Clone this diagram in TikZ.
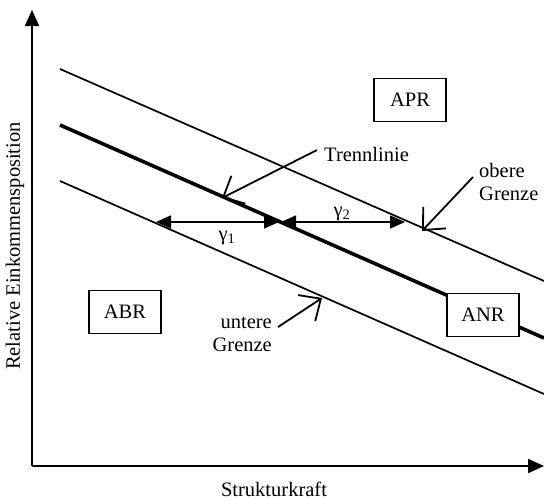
\documentclass[tikz,border=0pt]{standalone}
\usepackage{fontspec}
\setmainfont{Liberation Serif}
\usetikzlibrary{arrows.meta}
\begin{document}
\begin{tikzpicture}[x=1pt,y=-1pt,
  every node/.style={font=\fontsize{20.5}{23}\selectfont, inner sep=0pt},
  region/.style={draw, line width=1.6pt, fill=white, minimum width=72pt, minimum height=43pt},
  thinline/.style={line width=1.7pt},
  thickline/.style={line width=3.6pt},
  axis/.style={line width=2pt, -{Triangle[length=16pt,width=14pt]}},
  gap/.style={line width=1.6pt, {Triangle[length=15pt,width=13pt]}-{Triangle[length=15pt,width=13pt]}},
  pointer/.style={line width=1.8pt, -{Straight Barb[angle'=85,length=17pt,line width=1.8pt]}}]
\useasboundingbox (0,0) rectangle (544,499);
% axes
\coordinate (O) at (32,466);
\coordinate (ytop) at (32,10);
\coordinate (xend) at (544,466);
\draw[axis] (O) -- (ytop);
\draw[axis] (O) -- (xend);
% lines
\coordinate (u1) at (60,69);  \coordinate (u2) at (544,281);
\coordinate (m1) at (60,125); \coordinate (m2) at (544,338);
\coordinate (l1) at (60,181); \coordinate (l2) at (544,394);
\draw[thinline] (u1) -- (u2);
\draw[thickline] (m1) -- (m2);
\draw[thinline] (l1) -- (l2);
% boxes
\node[region] (APR) at (410,100) {APR};
\node[region] (ABR) at (125,312) {ABR};
\node[region] (ANR) at (483,315) {ANR};
% gamma arrows
\coordinate (g1l) at (156,222); \coordinate (g1r) at (279,222);
\coordinate (g2l) at (281,222); \coordinate (g2r) at (405,222);
\draw[gap] (g1l) -- (g1r);
\draw[gap] (g2l) -- (g2r);
\node (gam1) at (227,238) {γ\textsubscript{1}};
\node (gam2) at (342,214) {γ\textsubscript{2}};
% labels and pointers
\node[anchor=west] (tl) at (324,154) {Trennlinie};
\coordinate (tlS) at (317,150); \coordinate (tlE) at (222,198);
\draw[pointer] (tlS) -- (tlE);
\node[align=left, anchor=west] (ob) at (479,182) {obere\\Grenze};
\coordinate (obS) at (473,177); \coordinate (obE) at (422,231);
\draw[pointer] (obS) -- (obE);
\node[align=right, anchor=east] (un) at (272,334) {untere\\Grenze};
\coordinate (unS) at (278,327); \coordinate (unE) at (322,298);
\draw[pointer] (unS) -- (unE);
% axis labels
\node[rotate=90] (ylab) at (15,246) {Relative Einkommensposition};
\node[anchor=base] (xlab) at (274,496) {Strukturkraft};
\end{tikzpicture}
\end{document}
